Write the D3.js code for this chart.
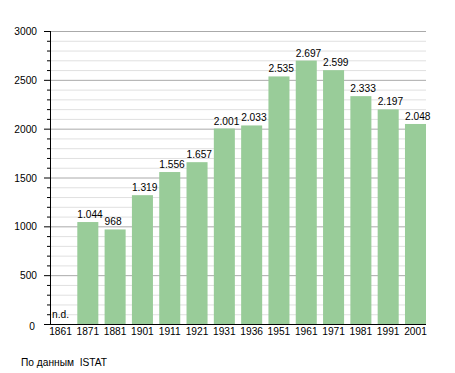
<!DOCTYPE html>
<html lang="it">
<head>
<meta charset="UTF-8">
<title>Abitanti censiti</title>
<script src="https://d3js.org/d3.v7.min.js"></script>
<style>
    body { margin: 0; background: #fff; }
    svg { display: block; }
    text { font-family: "Liberation Sans", Arial, sans-serif; font-size: 10.2px; fill: #000; }
</style>
</head>
<body>
<svg id="chart" width="455" height="373"></svg>
<script>
// censimenti ISTAT
const years = ["1861", "1871", "1881", "1901", "1911", "1921", "1931", "1936", "1951", "1961", "1971", "1981", "1991", "2001"];
const population = [null, 1044, 968, 1319, 1556, 1657, 2001, 2033, 2535, 2697, 2599, 2333, 2197, 2048];
const yTicks = [0, 500, 1000, 1500, 2000, 2500, 3000];
const sourceNote = "По данным  ISTAT";

const svg = d3.select("#chart");
const plotLeft = 50, plotRight = 426, plotTop = 31, plotBottom = 324;

const x = d3.scaleBand()
    .domain(years)
    .range([plotLeft, plotRight])
    .paddingInner(0.23)
    .paddingOuter(0);

const y = d3.scaleLinear()
    .domain([0, 3000])
    .range([plotBottom, plotTop]);

const fmt = d3.formatLocale({decimal: ",", thousands: ".", grouping: [3], currency: ["", "€"]}).format(",d");

// minor grid every 100
const minor = d3.range(100, 3001, 100).filter(v => v % 500 !== 0);
svg.append("g").selectAll("line")
    .data(minor)
    .join("line")
    .attr("x1", plotLeft).attr("x2", plotRight)
    .attr("y1", d => y(d) + 0.5).attr("y2", d => y(d) + 0.5)
    .attr("stroke", "#e0e0e0");

svg.append("g").selectAll("line")
    .data(yTicks.filter(v => v > 0))
    .join("line")
    .attr("x1", plotLeft).attr("x2", plotRight)
    .attr("y1", d => y(d) + 0.5).attr("y2", d => y(d) + 0.5)
    .attr("stroke", "#aaaaaa");

// bars
const data = years.map((yr, i) => ({year: yr, value: population[i]}));

svg.append("g").selectAll("rect")
    .data(data.filter(d => d.value != null))
    .join("rect")
    .attr("x", d => x(d.year))
    .attr("y", d => y(d.value))
    .attr("width", x.bandwidth())
    .attr("height", d => y(0) - y(d.value))
    .attr("fill", "#99cc99");

svg.append("g").selectAll("text")
    .data(data)
    .join("text")
    .attr("x", d => x(d.year) + (d.value == null ? 2 : 0))
    .attr("y", d => d.value == null ? plotBottom - 6 : y(d.value) - 4)
    .text(d => d.value == null ? "n.d." : fmt(d.value));

// y axis
const yAxis = svg.append("g");
yAxis.append("line")
    .attr("x1", plotLeft + 0.5).attr("x2", plotLeft + 0.5)
    .attr("y1", plotTop).attr("y2", plotBottom)
    .attr("stroke", "#000");
yAxis.selectAll(".minor")
    .data(minor)
    .join("line")
    .attr("class", "minor")
    .attr("x1", plotLeft - 3).attr("x2", plotLeft)
    .attr("y1", d => y(d) + 0.5).attr("y2", d => y(d) + 0.5)
    .attr("stroke", "#000");
yAxis.selectAll(".major")
    .data(yTicks)
    .join("line")
    .attr("class", "major")
    .attr("x1", plotLeft - 6).attr("x2", plotLeft)
    .attr("y1", d => y(d) + 0.5).attr("y2", d => y(d) + 0.5)
    .attr("stroke", "#000");
yAxis.selectAll("text")
    .data(yTicks)
    .join("text")
    .attr("x", d => d === 0 ? 35 : 37)
    .attr("y", d => y(d) + 4 + (d === 0 ? 2 : 0))
    .attr("text-anchor", "end")
    .text(d => d);

// x axis
svg.append("line")
    .attr("x1", plotLeft).attr("x2", plotRight)
    .attr("y1", plotBottom + 0.5).attr("y2", plotBottom + 0.5)
    .attr("stroke", "#000");

svg.append("g").selectAll("text")
    .data(years)
    .join("text")
    .attr("x", d => x(d) + x.bandwidth() / 2)
    .attr("y", plotBottom + 11)
    .attr("text-anchor", "middle")
    .text(d => d);

svg.append("text")
    .attr("x", 21)
    .attr("y", 366)
    .style("white-space", "pre")
    .text(sourceNote);
</script>
</body>
</html>
